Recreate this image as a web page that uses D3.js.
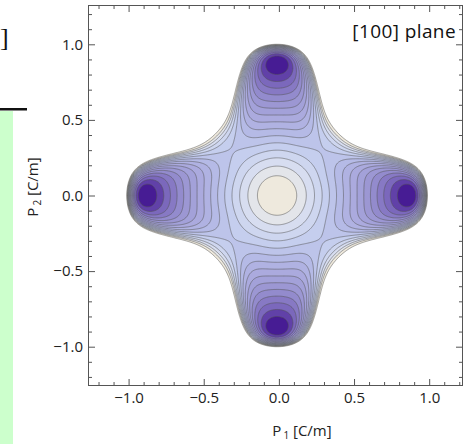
<!DOCTYPE html>
<html><head><meta charset="utf-8">
<script src="https://cdn.jsdelivr.net/npm/d3@7/dist/d3.min.js"></script>
<style>body{margin:0;background:#fff;overflow:hidden}</style>
</head><body>
<svg id="chart" width="466" height="444"></svg>
<script>
// ---------- data ----------
const xMajorTicks = [-1.0, -0.5, 0.0, 0.5, 1.0];
const yMajorTicks = [-1.0, -0.5, 0.0, 0.5, 1.0];
const xTickLabels = ["−1.0", "−0.5", "0.0", "0.5", "1.0"];
const yTickLabels = ["−1.0", "−0.5", "0.0", "0.5", "1.0"];
const minorTicks = [-1.2,-1.1,-0.9,-0.8,-0.7,-0.6,-0.4,-0.3,-0.2,-0.1,0.1,0.2,0.3,0.4,0.6,0.7,0.8,0.9,1.1,1.2];
const xDomain = [-1.27, 1.225];
const yDomain = [-1.26, 1.26];
const surfaceCenter = [-0.012, 0.0];
// energy-surface parameters:
// isotropic part  -a(sqrt(r^2+eps^2)-eps) + E r^n
const isoCoefs = [1.456, 0.18, 1.229, 24];      // a, eps, E, n
// anisotropy  m(P1^4P2^2+P1^2P2^4) + m2(P1^12P2^2+P1^2P2^12) + q(P1^8P2^4+P1^4P2^8) + c*W(P1,P2)
const couplingCoefs = [15, 10, 310, 2335];      // m, m2, q, c
const nContours = 16;
// colour stops (low -> high)
const colorStops  = [0, 0.07, 0.15, 0.3, 0.45, 0.6, 0.72, 0.85, 0.94, 1.0];
const colorValues = ["#3a0a8a","#5632a0","#7a66bb","#9690cf","#a9a8dd","#b6bbe6","#c5ceee","#d8def0","#e9e9e6","#f3e8d3"];

// ---------- layout ----------
const svg = d3.select("#chart");
const L = 88, R = 463, T = 5, B = 386;
const x = d3.scaleLinear().domain(xDomain).range([L, R]);
const y = d3.scaleLinear().domain(yDomain).range([B, T]);

// left-side cropped decorations
svg.append("rect").attr("x",0).attr("y",111).attr("width",13).attr("height",333).attr("fill","#ccffcc");
svg.append("rect").attr("x",0).attr("y",108).attr("width",27).attr("height",2.5).attr("fill","#111");
svg.append("text").attr("x",0).attr("y",46)
  .attr("font-family","Liberation Serif, DejaVu Serif, serif").attr("font-size",26).attr("fill","#111").text("]");

// ---------- field ----------
function energy(p1, p2) {
  const [a, eps, E, n] = isoCoefs;
  const [m, m2, q, c] = couplingCoefs;
  p1 -= surfaceCenter[0]; p2 -= surfaceCenter[1];
  const X = p1*p1, Y = p2*p2, s = X + Y;
  const r = Math.sqrt(s);
  let f = -a*(Math.sqrt(s + eps*eps) - eps) + E*Math.pow(r, n);
  f += m*(X*X*Y + X*Y*Y);
  f += m2*(Math.pow(X,6)*Y + X*Math.pow(Y,6));
  f += q*(Math.pow(X,4)*Y*Y + X*X*Math.pow(Y,4));
  if (s > 1e-14) {
    const W = Math.pow(X*Y, 3) * Math.pow(X*X + Y*Y, 1.5) / Math.pow(s, 6);
    f += c*W;
  }
  return f;
}
const nx = 420, ny = 420;
const dx = (xDomain[1]-xDomain[0])/nx, dy = (yDomain[1]-yDomain[0])/ny;
const values = new Float64Array(nx*ny);
let fmin = Infinity;
for (let j = 0; j < ny; j++) {
  const p2 = yDomain[1] - (j+0.5)*dy;
  for (let i = 0; i < nx; i++) {
    const p1 = xDomain[0] + (i+0.5)*dx;
    const v = energy(p1, p2);
    values[j*nx+i] = v;
    if (v < fmin) fmin = v;
  }
}
const fmax = energy(surfaceCenter[0], surfaceCenter[1]);
const step = (fmax - fmin) / nContours;
const thresholds = d3.range(nContours).map(i => fmin + i*step);
const cut = fmax + 0.3*step;

const color = d3.scaleLinear().domain(colorStops).range(colorValues).interpolate(d3.interpolateRgb);

const proj = d3.geoTransform({
  point: function(gx, gy) {
    this.stream.point(x(xDomain[0] + gx*dx), y(yDomain[1] - gy*dy));
  }
});
const path = d3.geoPath(proj);

svg.append("clipPath").attr("id","clip").append("rect")
  .attr("x",L+0.5).attr("y",T+0.5).attr("width",R-L-1).attr("height",B-T-1);
const plot = svg.append("g").attr("clip-path","url(#clip)");
plot.append("rect").attr("x",L).attr("y",T).attr("width",R-L).attr("height",B-T).attr("fill","#fff");

const gen = d3.contours().size([nx, ny]);
const bandCont = gen.thresholds([fmin - 1, ...thresholds.slice(1)])(values);
plot.selectAll("path.band").data(bandCont).join("path")
  .attr("class","band")
  .attr("d", path)
  .attr("fill", (d,i) => color((i + 0.5)/nContours))
  .attr("stroke","none");
const cutCont = gen.thresholds([cut])(values);
plot.append("path").datum(cutCont[0]).attr("d", path).attr("fill","#fff");

// contour lines
const lineCont = gen.thresholds([...thresholds.slice(1), cut])(values);
plot.selectAll("path.line").data(lineCont).join("path")
  .attr("class","line")
  .attr("d", path)
  .attr("fill","none")
  .attr("stroke","#555")
  .attr("stroke-opacity",0.7)
  .attr("stroke-width",0.75);

// ---------- frame & ticks ----------
const frameColor = "#555";
const font = "Open Sans, Noto Sans, sans-serif";
function styleAxis(g){ g.select(".domain").remove(); g.selectAll("line").attr("stroke",frameColor); g.selectAll("text").attr("font-family",font).attr("font-size",15).attr("fill","#222"); }
svg.append("g").attr("transform",`translate(0,${B})`)
  .call(d3.axisBottom(x).tickValues(xMajorTicks).tickSize(-7).tickPadding(6).tickFormat((d,i)=>xTickLabels[i])).call(styleAxis);
svg.append("g").attr("transform",`translate(0,${B})`)
  .call(d3.axisBottom(x).tickValues(minorTicks).tickSize(-4).tickFormat("")).call(styleAxis);
svg.append("g").attr("transform",`translate(0,${T})`)
  .call(d3.axisTop(x).tickValues(xMajorTicks).tickSize(-7).tickFormat("")).call(styleAxis);
svg.append("g").attr("transform",`translate(0,${T})`)
  .call(d3.axisTop(x).tickValues(minorTicks).tickSize(-4).tickFormat("")).call(styleAxis);
svg.append("g").attr("transform",`translate(${L},0)`)
  .call(d3.axisLeft(y).tickValues(yMajorTicks).tickSize(-7).tickPadding(5).tickFormat((d,i)=>yTickLabels[i])).call(styleAxis);
svg.append("g").attr("transform",`translate(${L},0)`)
  .call(d3.axisLeft(y).tickValues(minorTicks).tickSize(-4).tickFormat("")).call(styleAxis);
svg.append("g").attr("transform",`translate(${R},0)`)
  .call(d3.axisRight(y).tickValues(yMajorTicks).tickSize(-7).tickFormat("")).call(styleAxis);
svg.append("g").attr("transform",`translate(${R},0)`)
  .call(d3.axisRight(y).tickValues(minorTicks).tickSize(-4).tickFormat("")).call(styleAxis);
svg.append("rect").attr("x",L+0.5).attr("y",T+0.5).attr("width",R-L-1).attr("height",B-T-1)
  .attr("fill","none").attr("stroke",frameColor).attr("stroke-width",1);

// titles
const xt = svg.append("text").attr("x",302).attr("y",436).attr("text-anchor","middle")
  .attr("font-family",font).attr("font-size",15).attr("fill","#222");
xt.append("tspan").text("P");
xt.append("tspan").attr("font-size",10).attr("dx",2).attr("dy",3).text("1");
xt.append("tspan").attr("dy",-3).text(" [C/m]");
const yt = svg.append("text").attr("transform","translate(38,187) rotate(-90)").attr("text-anchor","middle")
  .attr("font-family",font).attr("font-size",15).attr("fill","#222");
yt.append("tspan").text("P");
yt.append("tspan").attr("font-size",10).attr("dx",2).attr("dy",3).text("2");
yt.append("tspan").attr("dy",-3).text(" [C/m]");

svg.append("text").attr("x",456).attr("y",38).attr("text-anchor","end")
  .attr("font-family",font).attr("font-size",19).attr("letter-spacing",0.4).attr("fill","#111").text("[100] plane");
</script>
</body></html>
